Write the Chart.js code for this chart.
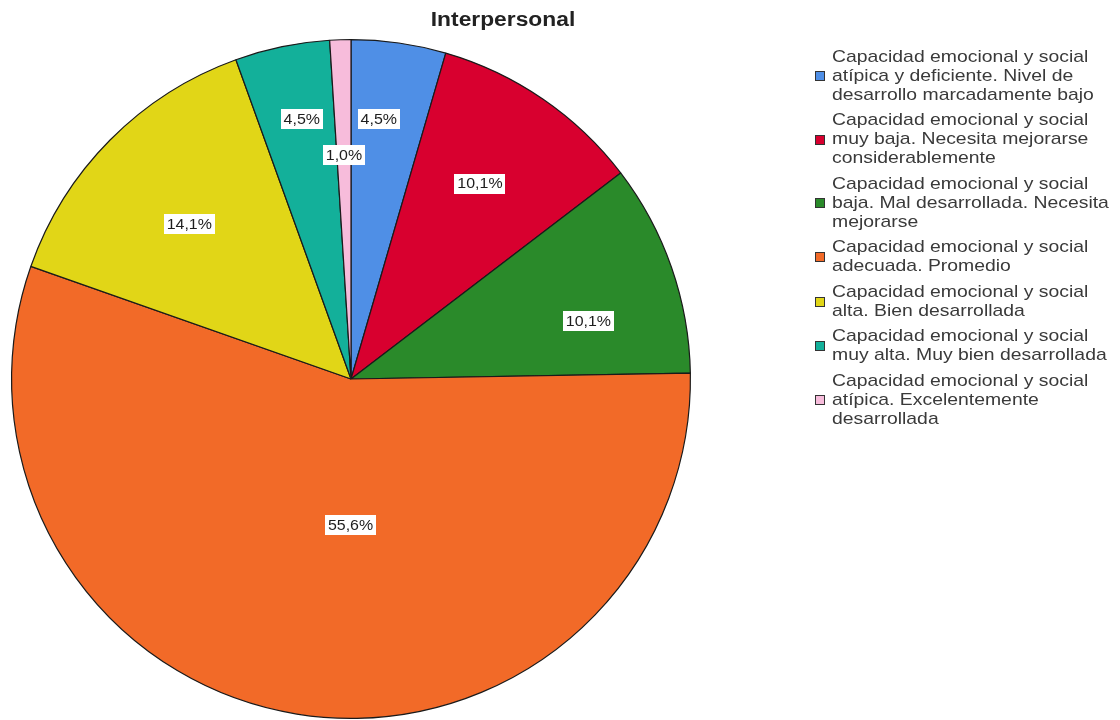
<!DOCTYPE html>
<html>
<head>
<meta charset="utf-8">
<script src="https://cdn.jsdelivr.net/npm/chart.js@4/dist/chart.umd.min.js"></script>
<style>
    html, body { margin: 0; padding: 0; background: #fff; }
    #wrap { width: 1120px; height: 720px; }
</style>
</head>
<body>
<div id="wrap"><canvas id="pie-chart" width="1120" height="720"></canvas></div>
<script>
// data
const categories = [
    "Capacidad emocional y social atípica y deficiente. Nivel de desarrollo marcadamente bajo",
    "Capacidad emocional y social muy baja. Necesita mejorarse considerablemente",
    "Capacidad emocional y social baja. Mal desarrollada. Necesita mejorarse",
    "Capacidad emocional y social adecuada. Promedio",
    "Capacidad emocional y social alta. Bien desarrollada",
    "Capacidad emocional y social muy alta. Muy bien desarrollada",
    "Capacidad emocional y social atípica. Excelentemente desarrollada"
];
const percents = [4.5, 10.1, 10.1, 55.6, 14.1, 4.5, 1.0];
const sliceColors = ["#4f8fe6", "#d8002f", "#2a8a2a", "#f26a28", "#e1d617", "#13b09a", "#f7bcdb"];
const chartTitle = "Interpersonal";

// where each label sits inside its slice (fraction of radius, angle shift in degrees)
const labelRadius = [0.77, 0.69, 0.72, 0.43, 0.66, 0.78, 0.66];
const labelShift = [-2, -1, 5.5, -9, -1, 1, 0];

const stretch = 1.14; // text in the reference is drawn a bit wide

function wideText(ctx, text, x, y, align) {
    ctx.save();
    ctx.translate(x, y);
    ctx.scale(stretch, 1);
    ctx.textAlign = align;
    ctx.fillText(text, 0, 0);
    ctx.restore();
}

function wrapLines(ctx, text, maxW) {
    const words = text.split(" ");
    const lines = [];
    let cur = "";
    words.forEach(w => {
        const test = cur ? cur + " " + w : w;
        if (cur && ctx.measureText(test).width > maxW) {
            lines.push(cur);
            cur = w;
        } else {
            cur = test;
        }
    });
    if (cur) lines.push(cur);
    return lines;
}

// title, slice labels and the legend on the right
const extras = {
    id: "extras",
    afterDraw(chart) {
        const ctx = chart.ctx;
        const arcs = chart.getDatasetMeta(0).data;

        // title
        ctx.fillStyle = "#222";
        ctx.font = "bold 20px 'Liberation Sans', Arial, sans-serif";
        ctx.textBaseline = "middle";
        wideText(ctx, chartTitle, 503, 20, "center");

        // percent labels in white boxes
        ctx.font = "14px 'Liberation Sans', Arial, sans-serif";
        arcs.forEach((arc, i) => {
            const mid = (arc.startAngle + arc.endAngle) / 2 + labelShift[i] * Math.PI / 180;
            const r = arc.outerRadius * labelRadius[i];
            const x = arc.x + Math.cos(mid) * r;
            const y = arc.y + Math.sin(mid) * r;
            const txt = percents[i].toFixed(1).replace(".", ",") + "%";
            const w = ctx.measureText(txt).width * stretch + 6;
            ctx.fillStyle = "#fff";
            ctx.fillRect(Math.round(x - w / 2), Math.round(y - 10), Math.round(w), 20);
            ctx.fillStyle = "#1e1e1e";
            wideText(ctx, txt, x, y + 1, "center");
        });

        // legend
        ctx.font = "17px 'Liberation Sans', Arial, sans-serif";
        const lineH = 19, gap = 6.5;
        let y = 57;
        categories.forEach((label, i) => {
            const lines = wrapLines(ctx, label, 247);
            const midY = y + (lines.length - 1) * lineH / 2;
            const sy = Math.round(midY - 5) + 0.5;
            ctx.fillStyle = sliceColors[i];
            ctx.fillRect(815.5, sy, 9, 9);
            ctx.strokeStyle = "#333";
            ctx.lineWidth = 1;
            ctx.strokeRect(815.5, sy, 9, 9);
            ctx.fillStyle = "#3a3a3a";
            lines.forEach((ln, k) => {
                wideText(ctx, ln, 832, y + k * lineH, "left");
            });
            y += lines.length * lineH + gap;
        });
    }
};

new Chart(document.getElementById("pie-chart").getContext("2d"), {
    type: "pie",
    data: {
        labels: categories,
        datasets: [{
            data: percents,
            backgroundColor: sliceColors,
            borderColor: "#1a1a1a",
            borderWidth: 1.2
        }]
    },
    options: {
        responsive: false,
        animation: false,
        layout: { padding: { left: 11, right: 429, top: 39, bottom: 1 } },
        plugins: {
            legend: { display: false },
            tooltip: { enabled: false }
        }
    },
    plugins: [extras]
});
</script>
</body>
</html>
